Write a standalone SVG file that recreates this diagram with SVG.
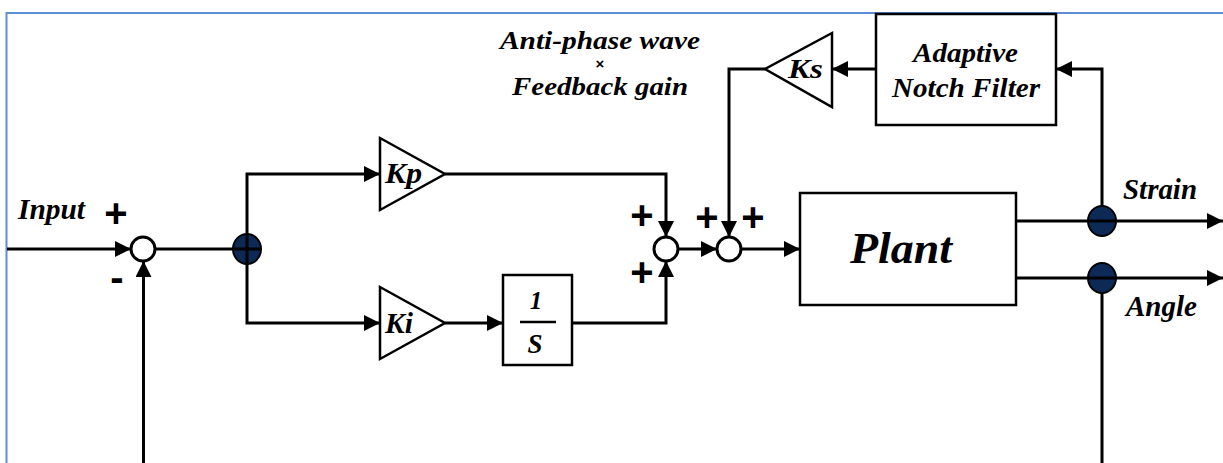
<svg xmlns="http://www.w3.org/2000/svg" width="1223" height="463" viewBox="0 0 1223 463">
<style>
  .ln{fill:none;stroke:#000;stroke-width:3}
  .bx{fill:#fff;stroke:#000;stroke-width:2.5}
  .sum{fill:#fff;stroke:#000;stroke-width:3}
  .dot{fill:#0d2a57;stroke:#000;stroke-width:2}
  .t{font-family:"Liberation Serif","Times New Roman","DejaVu Serif",serif;font-weight:700;font-style:italic;fill:#000}
  .s{font-family:"Liberation Sans",Arial,sans-serif;font-weight:700;fill:#000;font-size:40px;text-anchor:middle}
</style>
<defs>
  <marker id="ah" markerUnits="userSpaceOnUse" markerWidth="17" markerHeight="17" refX="16" refY="8" orient="auto">
    <path d="M0,0 L16,8 L0,16 Z" fill="#000"/>
  </marker>
</defs>
<rect x="6.5" y="13" width="1230" height="470" fill="none" stroke="#5b8ed4" stroke-width="2"/>

<g id="sum1"><circle class="sum" cx="143" cy="249" r="12"/></g>
<g id="branch1"><ellipse class="dot" cx="247" cy="249" rx="14" ry="15"/></g>
<g id="kp"><polygon class="bx" points="380,138 380,210 445,174"/><text class="t" x="385" y="183" font-size="30" textLength="37" lengthAdjust="spacingAndGlyphs">Kp</text></g>
<g id="ki"><polygon class="bx" points="380,287 380,359 445,323"/><text class="t" x="385" y="333" font-size="30" textLength="28" lengthAdjust="spacingAndGlyphs">Ki</text></g>
<g id="integrator"><rect class="bx" x="503" y="275" width="69" height="90"/>
  <text class="t" x="536" y="309" font-size="25" text-anchor="middle">1</text>
  <line x1="520" y1="322" x2="556" y2="322" stroke="#000" stroke-width="2.5"/>
  <text class="t" x="535" y="353" font-size="27" text-anchor="middle">S</text></g>
<g id="sum2"><circle class="sum" cx="666" cy="249" r="12"/></g>
<g id="sum3"><circle class="sum" cx="729" cy="249" r="12"/></g>
<g id="plant"><rect class="bx" x="800" y="193" width="216" height="112"/><text class="t" x="850" y="263" font-size="44" textLength="102" lengthAdjust="spacingAndGlyphs">Plant</text></g>
<g id="anf"><rect class="bx" x="876" y="14" width="180" height="111"/>
  <text class="t" x="913" y="62" font-size="28" textLength="105" lengthAdjust="spacingAndGlyphs">Adaptive</text>
  <text class="t" x="892" y="97" font-size="28" textLength="148" lengthAdjust="spacingAndGlyphs">Notch Filter</text></g>
<g id="ks"><polygon class="bx" points="832,33 832,107 765,69"/><text class="t" x="788" y="78" font-size="28" textLength="35" lengthAdjust="spacingAndGlyphs">Ks</text></g>
<g id="strainNode"><ellipse class="dot" cx="1102" cy="221" rx="14" ry="15"/></g>
<g id="angleNode"><ellipse class="dot" cx="1102" cy="278" rx="14" ry="15"/></g>

<g id="connectors">
  <line class="ln" x1="7" y1="249" x2="131" y2="249" marker-end="url(#ah)"/>
  <line class="ln" x1="143.5" y1="463" x2="143.5" y2="261" marker-end="url(#ah)"/>
  <line class="ln" x1="155" y1="249" x2="260" y2="249"/>
  <polyline class="ln" points="247,249 247,174 380,174" marker-end="url(#ah)"/>
  <polyline class="ln" points="247,249 247,323 380,323" marker-end="url(#ah)"/>
  <line class="ln" x1="445" y1="323" x2="503" y2="323" marker-end="url(#ah)"/>
  <polyline class="ln" points="445,174 666,174 666,237" marker-end="url(#ah)"/>
  <polyline class="ln" points="572,323 666,323 666,261" marker-end="url(#ah)"/>
  <line class="ln" x1="678" y1="249" x2="717" y2="249" marker-end="url(#ah)"/>
  <polyline class="ln" points="765,69 729,69 729,237" marker-end="url(#ah)"/>
  <line class="ln" x1="741" y1="249" x2="800" y2="249" marker-end="url(#ah)"/>
  <line class="ln" x1="1016" y1="221" x2="1223" y2="221" marker-end="url(#ah)"/>
  <line class="ln" x1="1016" y1="278" x2="1223" y2="278" marker-end="url(#ah)"/>
  <polyline class="ln" points="1102,206 1102,69 1056,69" marker-end="url(#ah)"/>
  <line class="ln" x1="1102" y1="293" x2="1102" y2="463"/>
  <line class="ln" x1="876" y1="69" x2="832" y2="69" marker-end="url(#ah)"/>
</g>

<g id="labels">
  <text class="t" x="18" y="219" font-size="29" textLength="67" lengthAdjust="spacingAndGlyphs">Input</text>
  <text class="s" x="116" y="227">+</text>
  <text class="s" x="117" y="291">-</text>
  <text class="s" x="642" y="229">+</text>
  <text class="s" x="642" y="286">+</text>
  <text class="s" x="707" y="231">+</text>
  <text class="s" x="753" y="231">+</text>
  <text class="t" x="500" y="49" font-size="25" textLength="200" lengthAdjust="spacingAndGlyphs">Anti-phase wave</text>
  <text class="s" x="600" y="69" style="font-size:15px">×</text>
  <text class="t" x="512" y="95" font-size="25" textLength="176" lengthAdjust="spacingAndGlyphs">Feedback gain</text>
  <text class="t" x="1123" y="199" font-size="29" textLength="74" lengthAdjust="spacingAndGlyphs">Strain</text>
  <text class="t" x="1126" y="316" font-size="29" textLength="71" lengthAdjust="spacingAndGlyphs">Angle</text>
</g>
</svg>
